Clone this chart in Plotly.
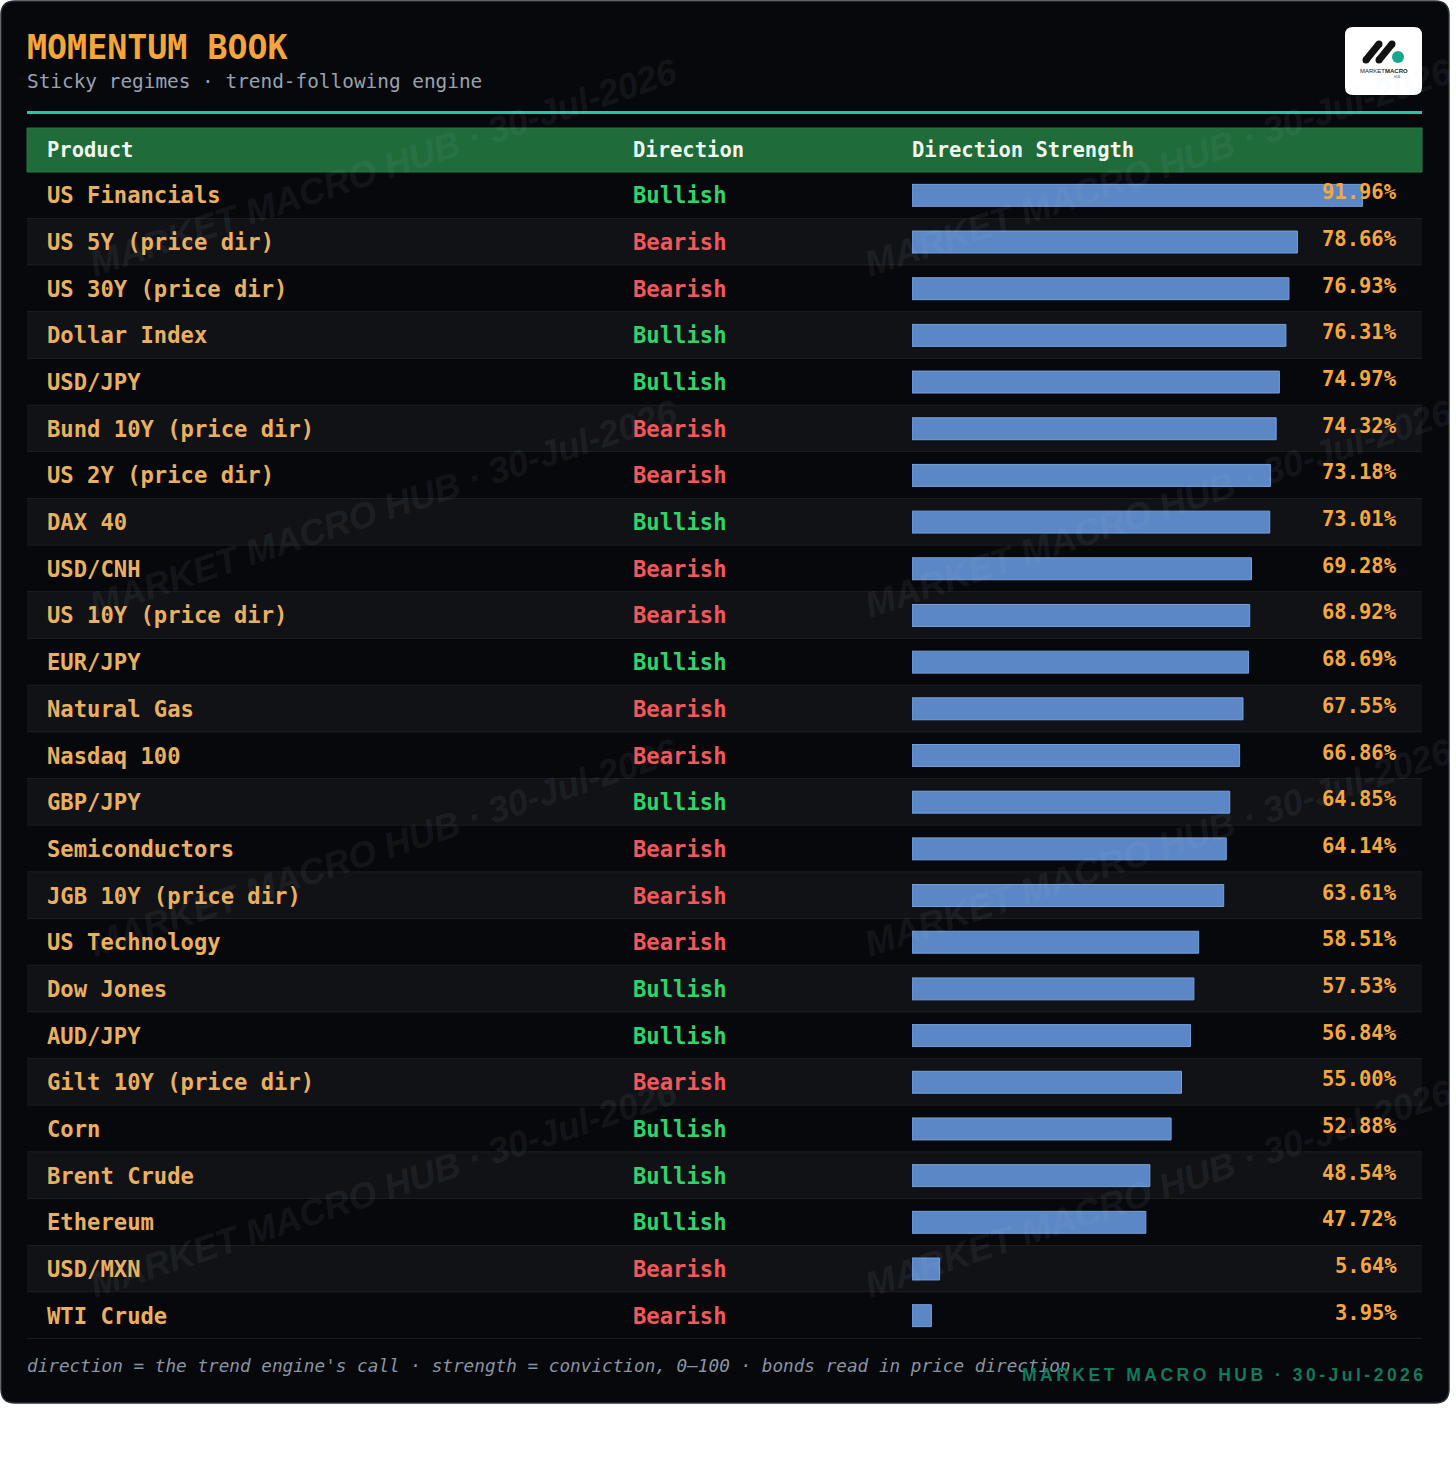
import plotly.graph_objects as go

W, H = 1456, 1482

products = ["US Financials", "US 5Y (price dir)", "US 30Y (price dir)", "Dollar Index", "USD/JPY",
            "Bund 10Y (price dir)", "US 2Y (price dir)", "DAX 40", "USD/CNH", "US 10Y (price dir)",
            "EUR/JPY", "Natural Gas", "Nasdaq 100", "GBP/JPY", "Semiconductors",
            "JGB 10Y (price dir)", "US Technology", "Dow Jones", "AUD/JPY", "Gilt 10Y (price dir)",
            "Corn", "Brent Crude", "Ethereum", "USD/MXN", "WTI Crude"]
directions = ["Bullish", "Bearish", "Bearish", "Bullish", "Bullish",
              "Bearish", "Bearish", "Bullish", "Bearish", "Bearish",
              "Bullish", "Bearish", "Bearish", "Bullish", "Bearish",
              "Bearish", "Bearish", "Bullish", "Bullish", "Bearish",
              "Bullish", "Bullish", "Bullish", "Bearish", "Bearish"]
strength = [91.96, 78.66, 76.93, 76.31, 74.97,
            74.32, 73.18, 73.01, 69.28, 68.92,
            68.69, 67.55, 66.86, 64.85, 64.14,
            63.61, 58.51, 57.53, 56.84, 55.00,
            52.88, 48.54, 47.72, 5.64, 3.95]
headers = ["Product", "Direction", "Direction Strength"]
title = "MOMENTUM BOOK"
subtitle = "Sticky regimes · trend-following engine"
footnote = "direction = the trend engine's call · strength = conviction, 0–100 · bonds read in price direction"
brand = "MARKET MACRO HUB · 30-Jul-2026"

MONO = "DejaVu Sans Mono"
SANS = "Liberation Sans, Arial"


def X(x):
    return x / W


def Y(y):
    return 1 - y / H


def rrect(x0, y0, x1, y1, r):
    pts = [("M", [(x0 + r, y0)]), ("L", [(x1 - r, y0)]), ("Q", [(x1, y0), (x1, y0 + r)]),
           ("L", [(x1, y1 - r)]), ("Q", [(x1, y1), (x1 - r, y1)]), ("L", [(x0 + r, y1)]),
           ("Q", [(x0, y1), (x0, y1 - r)]), ("L", [(x0, y0 + r)]), ("Q", [(x0, y0), (x0 + r, y0)])]
    s = ""
    for cmd, ps in pts:
        s += cmd + " " + " ".join(f"{X(px):.6f},{Y(py):.6f}" for px, py in ps) + " "
    return s + "Z"


n = len(products)
TABLE_L, TABLE_R = 27, 1422
ROW_TOP, ROW_BOT = 172, 1339
BAR_X0, BAR_X100 = 912, 1402

fig = go.Figure()
fig.add_trace(go.Bar(
    x=strength, y=products, orientation="h", xaxis="x2", yaxis="y2",
    marker=dict(color="#5b87c6", line=dict(color="#77a0da", width=1)),
    width=0.47, hoverinfo="skip", showlegend=False,
))

shapes = []
# card
shapes.append(dict(type="path", path=rrect(1, 1, 1449, 1403, 14), xref="paper", yref="paper",
                   fillcolor="#07080c", line=dict(color="#2c2f36", width=1.5), layer="below"))
# row backgrounds & separators
for i in range(n):
    shapes.append(dict(type="rect", xref="paper", yref="y2", x0=X(TABLE_L), x1=X(TABLE_R),
                       y0=i - 0.5, y1=i + 0.5, fillcolor="#07080c" if i % 2 == 0 else "#101216",
                       line=dict(width=0), layer="below"))
    shapes.append(dict(type="line", xref="paper", yref="y2", x0=X(TABLE_L), x1=X(TABLE_R),
                       y0=i + 0.5, y1=i + 0.5, line=dict(color="#1f2227", width=1.5), layer="below"))
# header band
shapes.append(dict(type="rect", xref="paper", yref="paper", x0=X(TABLE_L), x1=X(TABLE_R),
                   y0=Y(172), y1=Y(128), fillcolor="#1f6b3a", line=dict(color="#267a44", width=1),
                   layer="below"))
# teal rule
shapes.append(dict(type="line", xref="paper", yref="paper", x0=X(TABLE_L), x1=X(TABLE_R),
                   y0=Y(112.5), y1=Y(112.5), line=dict(color="#27c4a4", width=3), layer="below"))
# logo
shapes.append(dict(type="path", path=rrect(1345, 27, 1422, 95, 8), xref="paper", yref="paper",
                   fillcolor="#ffffff", line=dict(width=0), layer="above"))
for (ax, ay, bx, by) in [(1366, 60, 1379, 44), (1379, 60, 1392, 44)]:
    shapes.append(dict(type="line", xref="paper", yref="paper", x0=X(ax), y0=Y(ay), x1=X(bx), y1=Y(by),
                       line=dict(color="#111111", width=7), layer="above"))
    for (cx, cy) in [(ax, ay), (bx, by)]:
        shapes.append(dict(type="circle", xref="paper", yref="paper", x0=X(cx - 3.5), x1=X(cx + 3.5),
                           y0=Y(cy + 3.5), y1=Y(cy - 3.5), fillcolor="#111111", line=dict(width=0),
                           layer="above"))
shapes.append(dict(type="circle", xref="paper", yref="paper", x0=X(1392), x1=X(1404),
                   y0=Y(63), y1=Y(51), fillcolor="#16a58f", line=dict(width=0), layer="above"))

ann = []
# watermarks
for cy in [168, 508, 848, 1188]:
    for cx in [383, 1158]:
        ann.append(dict(x=X(cx), y=Y(cy), xref="paper", yref="paper", text=brand, showarrow=False,
                        textangle=-18.5, xanchor="center", yanchor="middle",
                        font=dict(family=SANS, size=36, color="rgba(200,210,225,0.085)",
                                  weight="bold", style="italic")))
# title / subtitle
ann.append(dict(x=X(25), y=Y(47), xref="paper", yref="paper", text=f"<b>{title}</b>", showarrow=False,
                xanchor="left", yanchor="middle", font=dict(family=MONO, size=33.3, color="#f5a63a")))
ann.append(dict(x=X(25), y=Y(82), xref="paper", yref="paper", text=subtitle, showarrow=False,
                xanchor="left", yanchor="middle", font=dict(family=MONO, size=19.4, color="#98a2ad")))
# logo text
ann.append(dict(x=X(1383.5), y=Y(71), xref="paper", yref="paper",
                text="MARKET<b>MACRO</b>", showarrow=False, xanchor="center", yanchor="middle",
                font=dict(family=SANS, size=6, color="#222222")))
ann.append(dict(x=X(1397), y=Y(76.5), xref="paper", yref="paper", text="HUB", showarrow=False,
                xanchor="center", yanchor="middle", font=dict(family=SANS, size=3, color="#555555")))
# header text
for hx, htxt in zip([45, 631, 910], headers):
    ann.append(dict(x=X(hx), y=Y(150), xref="paper", yref="paper", text=f"<b>{htxt}</b>", showarrow=False,
                    xanchor="left", yanchor="middle", font=dict(family=MONO, size=20.5, color="#f0f6f0")))
# rows
for p, d, s in zip(products, directions, strength):
    ann.append(dict(x=X(45), y=p, xref="paper", yref="y2", text=f"<b>{p}</b>", showarrow=False,
                    xanchor="left", yanchor="middle", font=dict(family=MONO, size=22.2, color="#e9b15f")))
    ann.append(dict(x=X(631), y=p, xref="paper", yref="y2", text=f"<b>{d}</b>", showarrow=False,
                    xanchor="left", yanchor="middle",
                    font=dict(family=MONO, size=22.2, color="#2fd36c" if d == "Bullish" else "#f2575a")))
    ann.append(dict(x=X(1399), y=p, xref="paper", yref="y2", text=f"<b>{s:.2f}%</b>", showarrow=False,
                    xanchor="right", yanchor="middle", yshift=3,
                    font=dict(family=MONO, size=20.5, color="#f6a83c")))
# footer
ann.append(dict(x=X(25), y=Y(1366), xref="paper", yref="paper", text=footnote, showarrow=False,
                xanchor="left", yanchor="middle",
                font=dict(family=MONO, size=17.7, color="#8a95a2", style="italic")))
spaced_brand = "\u2009".join(brand)
ann.append(dict(x=X(1425), y=Y(1375), xref="paper", yref="paper", text=f"<b>{spaced_brand}</b>",
                showarrow=False, xanchor="right", yanchor="middle",
                font=dict(family=SANS, size=17.5, color="#12795c")))

fig.update_layout(
    width=W, height=H, margin=dict(l=0, r=0, t=0, b=0),
    paper_bgcolor="#ffffff", plot_bgcolor="rgba(0,0,0,0)",
    xaxis2=dict(domain=[X(BAR_X0), X(BAR_X100)], range=[0, 100], visible=False, fixedrange=True,
                anchor="y2"),
    yaxis2=dict(domain=[Y(ROW_BOT), Y(ROW_TOP)], type="category", categoryorder="array",
                categoryarray=products, range=[n - 0.5, -0.5], visible=False, fixedrange=True,
                anchor="x2"),
    xaxis=dict(visible=False), yaxis=dict(visible=False),
    shapes=shapes, annotations=ann, showlegend=False,
)

fig.write_html("out.html")
